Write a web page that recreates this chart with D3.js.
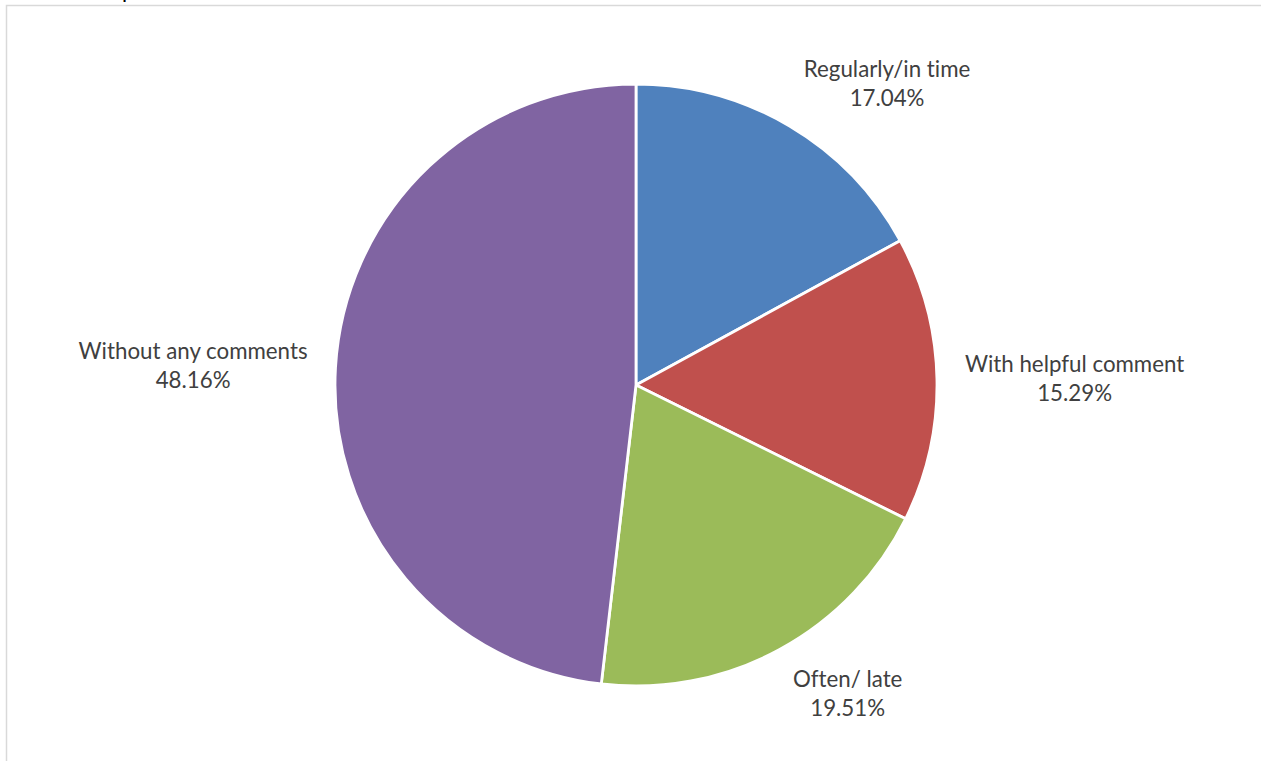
<!DOCTYPE html>
<html>
<head>
<meta charset="utf-8">
<script src="https://cdn.jsdelivr.net/npm/d3@7"></script>
<style>
  html, body { margin: 0; padding: 0; background: #fff; }
  svg { display: block; }
  text { font-variant-ligatures: none; font-feature-settings: "liga" 0, "clig" 0; }
</style>
</head>
<body>
<svg id="chart" width="1261" height="761"></svg>
<script>
const categories = ["Regularly/in time", "With helpful comment", "Often/ late", "Without any comments"];
const values = [17.04, 15.29, 19.51, 48.16];
const colors = ["#4F81BD", "#C0504D", "#9BBB59", "#8064A2"];

const W = 1261, H = 761;
const cx = 636, cy = 385, R = 301;
const labelGap = 28;
const fontFamily = "Lato, 'Open Sans', sans-serif";
const fontSize = 22.3;

const svg = d3.select("#chart");

// chart area border
svg.append("rect")
  .attr("x", 6.5).attr("y", 5.5)
  .attr("width", W + 20).attr("height", H + 20)
  .attr("fill", "none")
  .attr("stroke", "#d9d9d9")
  .attr("stroke-width", 1.5);

// cropped title fragment at top edge
svg.append("text")
  .attr("x", 122).attr("y", -2)
  .attr("font-family", fontFamily)
  .attr("font-size", 22)
  .attr("fill", "#000")
  .text("p");

const pie = d3.pie().sort(null).value(d => d.value);
const data = categories.map((c, i) => ({ name: c, value: values[i], color: colors[i] }));
const arcs = pie(data);

const arc = d3.arc().innerRadius(0).outerRadius(R);

const g = svg.append("g").attr("transform", `translate(${cx},${cy})`);

g.selectAll("path.slice")
  .data(arcs)
  .enter().append("path")
  .attr("class", "slice")
  .attr("d", arc)
  .attr("fill", d => d.data.color)
  .attr("stroke", "#fff")
  .attr("stroke-width", 2.8)
  .attr("stroke-linejoin", "round");

const fmt = d => d3.format(".2f")(d) + "%";

g.selectAll("text.lbl")
  .data(arcs)
  .enter().append("text")
  .attr("class", "lbl")
  .attr("font-family", fontFamily)
  .attr("font-size", fontSize)
  .attr("fill", "#404040")
  .each(function(d) {
    const a = (d.startAngle + d.endAngle) / 2;
    const s = Math.sin(a), c = Math.cos(a);
    const px = (R + labelGap) * s;
    const py = -(R + labelGap) * c;
    const blockCenter = py - c * 22;
    const t = d3.select(this);
    t.append("tspan").attr("class", "l1").text(d.data.name);
    t.append("tspan").attr("class", "l2").text(fmt(d.data.value));
    const w1 = t.select(".l1").node().getComputedTextLength();
    const w2 = t.select(".l2").node().getComputedTextLength();
    const bw = Math.max(w1, w2);
    let centerX;
    if (s > 0.05) centerX = px + bw / 2;
    else if (s < -0.05) centerX = px - bw / 2;
    else centerX = px;
    t.attr("text-anchor", "middle");
    t.select(".l1").attr("x", centerX).attr("y", blockCenter - 6);
    t.select(".l2").attr("x", centerX).attr("y", blockCenter + 23);
  });
</script>
</body>
</html>
